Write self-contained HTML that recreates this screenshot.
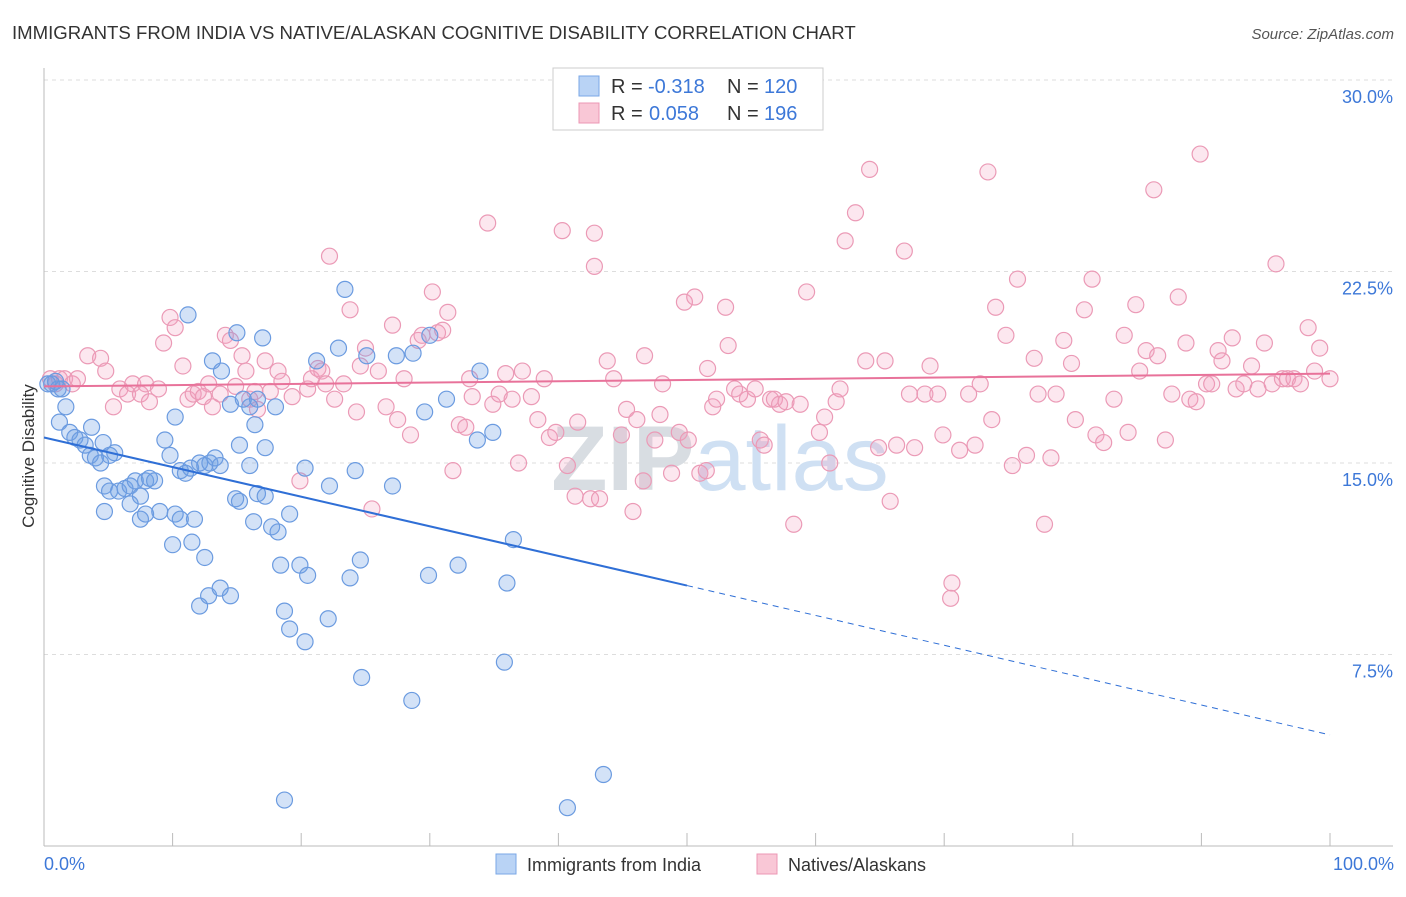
<!DOCTYPE html>
<html><head><meta charset="utf-8">
<style>
body{margin:0;background:#fff;font-family:"Liberation Sans",sans-serif;}
svg text{font-family:"Liberation Sans",sans-serif;}
</style></head>
<body>
<svg id="chart" width="1406" height="892" xmlns="http://www.w3.org/2000/svg">
<text x="12" y="39" font-size="18.6" fill="#333">IMMIGRANTS FROM INDIA VS NATIVE/ALASKAN COGNITIVE DISABILITY CORRELATION CHART</text>
<text x="1394" y="39" font-size="15" fill="#555" text-anchor="end" font-style="italic">Source: ZipAtlas.com</text>
<g id="grid"></g>
<text x="720" y="490" font-size="92" fill="#dde6f0" text-anchor="middle" font-family="Liberation Serif"><tspan fill="#d8dde2" font-weight="bold">ZIP</tspan><tspan fill="#cfe0f3">atlas</tspan></text>
<g id="pts"></g>
<g id="trend"></g>
<text transform="translate(34,456) rotate(-90)" font-size="17" fill="#333" text-anchor="middle">Cognitive Disability</text>
<g>
<rect x="553" y="68" width="270" height="62" fill="#fff" stroke="#ccc"/>
<rect x="579" y="76" width="20" height="20" fill="#b9d3f5" stroke="#7aa7e6"/>
<rect x="579" y="103" width="20" height="20" fill="#f9c7d6" stroke="#ec97b4"/>
<text x="611" y="93" font-size="20" fill="#333">R =</text>
<text x="648" y="93" font-size="20" fill="#3d78d8">-0.318</text>
<text x="727" y="93" font-size="20" fill="#333">N =</text>
<text x="764" y="93" font-size="20" fill="#3d78d8">120</text>
<text x="611" y="120" font-size="20" fill="#333">R =</text>
<text x="649" y="120" font-size="20" fill="#3d78d8">0.058</text>
<text x="727" y="120" font-size="20" fill="#333">N =</text>
<text x="764" y="120" font-size="20" fill="#3d78d8">196</text>
</g>
<g>
<rect x="496" y="854" width="20" height="20" fill="#b9d3f5" stroke="#7aa7e6"/>
<text x="527" y="871" font-size="18" fill="#333">Immigrants from India</text>
<rect x="757" y="854" width="20" height="20" fill="#f9c7d6" stroke="#ec97b4"/>
<text x="788" y="871" font-size="18" fill="#333">Natives/Alaskans</text>
</g>
<text x="44" y="870" font-size="18" fill="#3d78d8">0.0%</text>
<text x="1394" y="870" font-size="18" fill="#3d78d8" text-anchor="end">100.0%</text>
</svg>
<script>
const yTicks=[30,22.5,15,7.5];
const yTickLabels=["30.0%","22.5%","15.0%","7.5%"];
const xTicks=[0,10,20,30,40,50,60,70,80,90,100];
const indiaX=[0.3,0.6,0.9,1.1,1.4,1.7,1.2,2.0,2.4,2.8,3.2,3.6,4.0,4.4,3.7,4.6,5.1,5.5,4.7,5.1,5.8,6.3,6.7,7.1,7.5,7.9,8.2,8.6,4.7,6.7,7.5,7.9,9.0,9.4,9.8,10.2,10.6,11.0,11.4,12.1,12.5,12.9,13.3,13.7,10.2,10.6,11.7,10.0,11.5,12.5,12.1,12.8,13.7,14.5,11.2,13.1,13.8,15.0,16.0,15.2,16.4,14.5,15.5,16.6,17.0,16.0,17.2,18.0,16.6,17.2,14.9,15.2,16.3,17.7,18.2,19.1,18.4,19.9,20.5,18.7,19.1,20.3,22.1,24.7,28.6,20.3,22.2,21.2,23.4,22.9,25.1,27.4,28.7,30.0,24.2,24.6,23.8,27.1,29.6,31.3,33.9,33.7,34.9,32.2,29.9,35.8,36.0,36.5,43.5,40.7,18.7];
const indiaY=[18.1,18.1,18.2,17.9,17.9,17.2,16.6,16.2,16.0,15.9,15.7,15.3,15.2,15.0,16.4,15.8,15.3,15.4,14.1,13.9,13.9,14.0,14.1,14.3,13.7,14.3,14.4,14.3,13.1,13.4,12.8,13.0,13.1,15.9,15.3,16.8,14.7,14.6,14.8,15.0,14.9,15.0,15.2,14.9,13.0,12.8,12.8,11.8,11.9,11.3,9.4,9.8,10.1,9.8,20.8,19.0,18.6,20.1,14.9,15.7,16.5,17.3,17.5,17.5,19.9,17.2,15.6,17.2,13.8,13.7,13.6,13.5,12.7,12.5,12.3,13.0,11.0,11.0,10.6,9.2,8.5,8.0,8.9,6.6,5.7,14.8,14.1,19.0,21.8,19.5,19.2,19.2,19.3,20.0,14.7,11.2,10.5,14.1,17.0,17.5,18.6,15.9,16.2,11.0,10.6,7.2,10.3,12.0,2.8,1.5,1.8];
const nativeX=[0.5,0.9,1.2,1.6,2.2,2.6,3.4,4.4,4.8,5.4,5.9,6.5,6.9,7.5,7.9,8.2,8.9,9.3,9.8,10.2,10.8,11.2,11.6,12.0,12.4,12.8,13.1,13.7,14.1,14.5,14.9,15.4,15.7,16.0,16.4,16.6,17.2,17.6,18.2,18.5,19.3,19.9,20.5,20.8,21.3,21.6,21.9,22.2,22.6,23.3,23.8,24.3,24.6,25.0,25.5,26.0,26.6,27.1,27.5,28.0,28.5,29.1,29.4,30.2,30.6,31.0,31.4,31.8,32.3,32.8,33.1,33.3,34.5,34.9,35.4,35.9,36.4,36.9,37.2,37.9,38.4,38.9,39.3,39.8,40.3,40.7,41.3,41.5,42.5,42.8,42.8,43.2,43.8,44.3,44.9,45.3,45.8,46.1,46.6,46.7,47.5,47.9,48.1,48.8,49.4,49.8,50.1,50.6,51.0,51.5,51.6,52.0,52.3,53.0,53.2,53.7,54.1,54.7,55.3,55.7,56.0,56.5,56.8,57.2,57.7,58.3,58.8,59.3,60.3,60.7,61.1,61.6,61.9,62.3,63.1,63.9,64.2,64.9,65.4,65.8,66.3,66.9,67.3,67.7,68.5,68.9,69.5,69.9,70.6,70.5,71.2,71.9,72.4,72.8,73.4,73.7,74.0,74.8,75.3,75.7,76.4,77.0,77.3,77.8,78.3,78.7,79.3,79.9,80.2,80.9,81.5,81.8,82.4,83.2,84.0,84.3,84.9,85.2,85.7,86.3,86.6,87.2,87.7,88.2,88.8,89.1,89.6,89.9,90.4,90.8,91.3,91.6,92.4,92.7,93.3,93.9,94.4,94.9,95.5,95.8,96.3,96.7,97.2,97.7,98.3,98.8,99.2,100.0];
const nativeY=[18.3,18.1,18.3,18.3,18.1,18.3,19.2,19.1,18.6,17.2,17.9,17.7,18.1,17.7,18.1,17.4,17.9,19.7,20.7,20.3,18.8,17.5,17.7,17.8,17.6,18.1,17.2,17.7,20.0,19.8,18.0,19.2,18.6,17.5,17.8,17.1,19.0,17.8,18.6,18.2,17.6,14.3,17.9,18.3,18.7,18.6,18.1,23.1,17.5,18.1,21.0,17.0,18.8,19.5,13.2,18.6,17.2,20.4,16.7,18.3,16.1,19.8,20.0,21.7,20.1,20.2,20.9,14.7,16.5,16.4,18.3,17.6,24.4,17.3,17.7,18.5,17.5,15.0,18.6,17.6,16.7,18.3,16.0,16.2,24.1,14.9,13.7,16.6,13.6,24.0,22.7,13.6,19.0,18.3,16.1,17.1,13.1,16.7,14.3,19.2,15.9,16.9,18.1,14.6,16.2,21.3,15.9,21.5,14.6,14.7,18.7,17.2,17.5,21.1,19.6,17.9,17.7,17.5,17.9,15.9,15.7,17.5,17.5,17.3,17.4,12.6,17.3,21.7,16.2,16.8,15.0,17.4,17.9,23.7,24.8,19.0,26.5,15.6,19.0,13.5,15.7,23.3,17.7,15.6,17.7,18.8,17.7,16.1,10.3,9.7,15.5,17.7,15.7,18.1,26.4,16.7,21.1,20.0,14.9,22.2,15.3,19.1,17.7,12.6,15.2,17.7,19.8,18.9,16.7,21.0,22.2,16.1,15.8,17.5,20.0,16.2,21.2,18.6,19.4,25.7,19.2,15.9,17.7,21.5,19.7,17.5,17.4,27.1,18.1,18.1,19.4,19.0,19.9,17.9,18.1,18.8,17.9,19.7,18.1,22.8,18.3,18.3,18.3,18.1,20.3,18.6,19.5,18.3];
const indiaTrendX=[0,50,100];
const indiaTrendY=[16.0,10.2,4.35];
const nativeTrendX=[0,100];
const nativeTrendY=[18.0,18.5];

const NS="http://www.w3.org/2000/svg";
const X0=44,X1=1330,Y0=846,YTOP=80;
function sx(v){return X0+(X1-X0)*v/100;}
function sy(v){return Y0-(Y0-YTOP)*v/30;}
function mk(tag,attrs,parent){const e=document.createElementNS(NS,tag);for(const k in attrs)e.setAttribute(k,attrs[k]);parent.appendChild(e);return e;}
const grid=document.getElementById('grid');
yTicks.forEach((t,i)=>{
  const l=mk('line',{x1:X0,x2:1393,y1:sy(t),y2:sy(t),stroke:'#ddd','stroke-dasharray':'4 4'},grid);
  
  
  const tx=mk('text',{x:1393,y:sy(t)+23,'font-size':18,fill:'#3d78d8','text-anchor':'end'},grid);
  tx.textContent=yTickLabels[i];
  
  
});
const ax=mk('line',{x1:X0,x2:1393,y1:Y0,y2:Y0,stroke:'#bbb'},grid);


const ay=mk('line',{x1:X0,x2:X0,y1:68,y2:Y0,stroke:'#bbb'},grid);


xTicks.forEach(t=>{
  const l=mk('line',{x1:sx(t),x2:sx(t),y1:Y0-13,y2:Y0,stroke:'#bbb'},grid);
  
  
});
const pts=document.getElementById('pts');
nativeX.forEach((x,i)=>{
  const c=mk('circle',{cx:sx(x),cy:sy(nativeY[i]),r:8,fill:'rgba(243,160,190,0.25)',stroke:'#eb9ab6','stroke-width':1.2},pts);
  
  
});
indiaX.forEach((x,i)=>{
  const c=mk('circle',{cx:sx(x),cy:sy(indiaY[i]),r:8,fill:'rgba(110,160,230,0.3)',stroke:'#6b9be0','stroke-width':1.2},pts);
  
  
});
const tr=document.getElementById('trend');
const b1=mk('line',{x1:sx(indiaTrendX[0]),y1:sy(indiaTrendY[0]),x2:sx(indiaTrendX[1]),y2:sy(indiaTrendY[1]),stroke:'#2f6fd6','stroke-width':2},tr);


const b2=mk('line',{x1:sx(indiaTrendX[1]),y1:sy(indiaTrendY[1]),x2:sx(indiaTrendX[2]),y2:sy(indiaTrendY[2]),stroke:'#2f6fd6','stroke-width':1,'stroke-dasharray':'6 5'},tr);


const p1=mk('line',{x1:sx(nativeTrendX[0]),y1:sy(nativeTrendY[0]),x2:sx(nativeTrendX[1]),y2:sy(nativeTrendY[1]),stroke:'#e8729a','stroke-width':2},tr);


</script>
</body></html>
